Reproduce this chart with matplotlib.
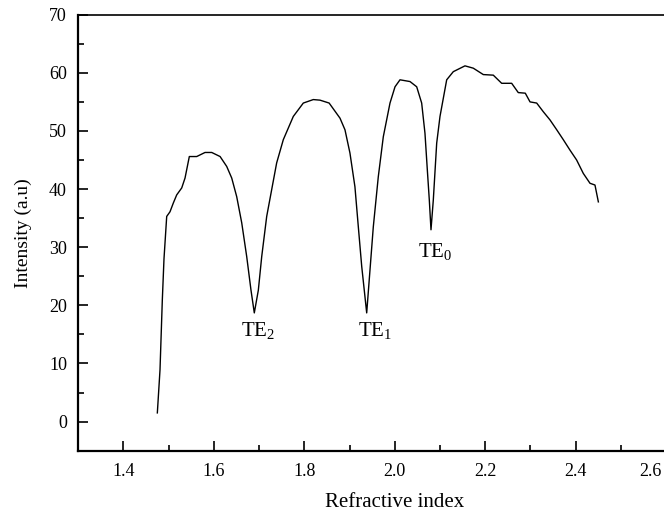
import numpy as np
import matplotlib
matplotlib.use('Agg')
import matplotlib.pyplot as plt
from matplotlib.ticker import MultipleLocator
from matplotlib.transforms import ScaledTranslation

# Measured intensity vs. refractive index (prism coupler scan)
refr_index = [1.4753, 1.4812, 1.4863, 1.4900, 1.4960, 1.5033, 1.5106, 1.5181,
              1.5292, 1.5365, 1.5460, 1.5623, 1.5807, 1.5955, 1.6140, 1.6286,
              1.6397, 1.6507, 1.6618, 1.6728, 1.6823, 1.6896, 1.6985, 1.7060,
              1.7170, 1.7280, 1.7390, 1.7537, 1.7758, 1.7979, 1.8200, 1.8348,
              1.8550, 1.8790, 1.8900, 1.9010, 1.9120, 1.9195, 1.9270, 1.9380,
              1.9453, 1.9526, 1.9636, 1.9747, 1.9895, 2.0006, 2.0116, 2.0337,
              2.0485, 2.0595, 2.0668, 2.0720, 2.0764, 2.0801, 2.0852, 2.0927,
              2.1000, 2.1148, 2.1294, 2.1552, 2.1736, 2.1957, 2.2178, 2.2363,
              2.2584, 2.2730, 2.2885, 2.2990, 2.3137, 2.3284, 2.3431, 2.3580,
              2.3725, 2.3873, 2.4020, 2.4167, 2.4315, 2.4425, 2.4500]
intensity = [1.5, 8.9, 20.9, 28.0, 35.3, 36.1, 37.6, 39.0,
             40.2, 41.9, 45.6, 45.6, 46.3, 46.3, 45.6, 43.9,
             41.9, 38.7, 34.2, 28.4, 22.6, 18.7, 22.6, 28.4,
             35.3, 39.9, 44.5, 48.5, 52.5, 54.8, 55.4, 55.3,
             54.8, 52.2, 50.2, 46.2, 40.4, 33.5, 26.7, 18.7,
             26.1, 33.5, 42.1, 49.0, 54.8, 57.6, 58.8, 58.5,
             57.6, 54.8, 49.6, 43.3, 38.1, 33.0, 38.1, 47.9,
             52.5, 58.8, 60.2, 61.2, 60.8, 59.7, 59.6, 58.2,
             58.2, 56.6, 56.5, 55.0, 54.8, 53.3, 51.9, 50.2,
             48.5, 46.7, 45.0, 42.7, 41.0, 40.7, 37.8]

# Guided mode labels: (text, x, baseline y)
mode_labels = [r'$\mathrm{TE}_2$', r'$\mathrm{TE}_1$', r'$\mathrm{TE}_0$']
mode_x = [1.6600, 1.9190, 2.0510]
mode_y = [14.6, 14.6, 28.3]


def main():
    plt.rcParams['font.family'] = ['Liberation Serif', 'DejaVu Serif']
    plt.rcParams['mathtext.fontset'] = 'custom'
    plt.rcParams['mathtext.rm'] = 'Liberation Serif'

    fig = plt.figure(figsize=(6.64, 5.14), dpi=100)
    # axes run past the right edge of the figure
    ax = fig.add_axes([0.1175, 0.1232, 0.954, 0.8482])

    ax.plot(refr_index, intensity, color='black', lw=1.0)

    for lab, x, y in zip(mode_labels, mode_x, mode_y):
        ax.text(x, y, lab, fontsize=15, ha='left', va='baseline')

    ax.set_xlim(1.3, 2.7)
    ax.set_ylim(-5, 70)
    ax.xaxis.set_minor_locator(MultipleLocator(0.1))
    ax.yaxis.set_minor_locator(MultipleLocator(5))
    ax.set_xticks(np.arange(1.4, 2.61, 0.2))
    ax.set_xticklabels(['%.1f' % v for v in np.arange(1.4, 2.61, 0.2)])
    ax.set_yticks(np.arange(0, 71, 10))

    ax.tick_params(which='both', direction='in', width=1.2, labelsize=13,
                   top=False, right=False)
    ax.tick_params(which='major', length=7)
    ax.tick_params(which='minor', length=4)
    ax.tick_params(axis='x', pad=9)
    ax.tick_params(axis='y', pad=8)

    for s in ['left', 'bottom']:
        ax.spines[s].set_linewidth(1.6)
    ax.spines['top'].set_linewidth(1.2)
    ax.spines['right'].set_visible(False)

    # keep the last tick label inside the figure
    last = ax.get_xticklabels()[-1]
    last.set_horizontalalignment('right')
    last.set_transform(last.get_transform() +
                       ScaledTranslation(-0.05, 0, fig.dpi_scale_trans))

    ax.set_xlabel('Refractive index', fontsize=15, labelpad=9)
    ax.set_ylabel('Intensity (a.u)', fontsize=14, labelpad=12)

    fig.savefig('out.png', dpi=100)


if __name__ == "__main__":
    main()
